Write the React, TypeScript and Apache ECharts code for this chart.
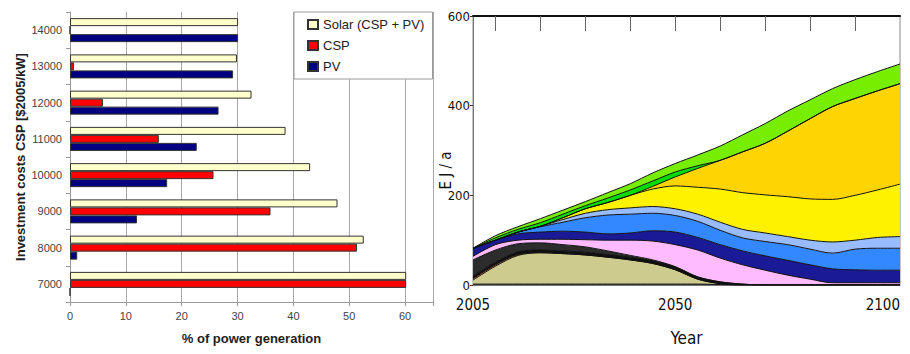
import React, { useEffect, useRef } from 'react';
import * as echarts from 'echarts';

// ---------- Left panel: CSP investment cost vs. share of power generation ----------
const costCategories = ['7000', '8000', '9000', '10000', '11000', '12000', '13000', '14000'];
const solarShare = [60.2, 52.6, 47.9, 43.0, 38.6, 32.5, 29.9, 30.1];
const cspShare = [60.2, 51.4, 35.9, 25.7, 15.9, 5.9, 0.7, 0];
const pvShare = [0, 1.3, 12.0, 17.4, 22.7, 26.6, 29.2, 30.1];

// ---------- Right panel: stacked energy supply (EJ/a) ----------
const years = ['2005', '2010', '2015', '2020', '2025', '2030', '2035', '2040', '2045', '2050', '2055', '2060', '2065', '2070', '2075', '2080', '2085', '2090', '2095', '2100'];
const layerBase = [2, 2, 2, 2, 2, 2, 2, 2, 2, 2, 2, 1, 0, 0, 0, 0, 0, 0, 0, 0];
const layerKhaki = [9, 40, 64, 70, 68, 65, 60, 54, 46, 32, 11, 2, 0, 0, 0, 0, 0, 0, 0, 0];
const layerOrange = [3, 3, 2, 0, 0, 0, 0, 0, 0, 0, 0, 0, 0, 0, 0, 0, 0, 0, 0, 0];
const layerBlack = [6, 6, 6, 6, 6, 6, 6, 6, 6, 6, 5, 4, 2, 0, 0, 0, 0, 0, 0, 0];
const layerDarkGrey = [36, 27, 18, 16, 14, 12, 8, 4, 2, 1, 0, 0, 0, 0, 0, 0, 0, 0, 0, 0];
const layerPink = [8, 12, 8, 8, 12, 16, 24, 34, 42, 49, 60, 53, 43, 33, 22, 13, 5, 5, 5, 5];
const layerNavy = [18, 10, 14, 16, 18, 17, 14, 16, 23, 28, 28, 30, 31, 32, 33, 32, 31, 29, 28, 28];
const layerMidBlue = [0, 0, 4, 12, 20, 32, 42, 42, 39, 37, 36, 32, 29, 32, 35, 35, 35, 46, 49, 49];
const layerLightBlue = [0, 0, 0, 1, 6, 10, 12, 14, 15, 15, 16, 18, 19, 19, 18, 20, 25, 20, 24, 26];
const layerYellow = [0, 0, 0, 0, 4, 10, 16, 28, 39, 51, 60, 74, 82, 85, 89, 92, 95, 100, 106, 117];
const layerGold = [0, 0, 0, 0, 0, 0, 0, 0, 6, 20, 42, 64, 91, 115, 146, 179, 207, 216, 221, 224];
const layerGreen = [0, 5, 6, 8, 8, 7, 10, 12, 12, 11, 6, 0, 0, 0, 0, 0, 0, 0, 0, 0];
const layerLime = [0, 5, 6, 9, 9, 9, 12, 14, 18, 19, 24, 32, 38, 44, 45, 42, 40, 42, 43, 44];
const yearLabels = ['2005', '2050', '2100'];
const topTicks = ['2010', '2020', '2030', '2040', '2050', '2060', '2070', '2080', '2090'];

const layers = [
  { name: 'base', values: layerBase, color: '#5a5a5a' },
  { name: 'khaki', values: layerKhaki, color: '#cecb8f' },
  { name: 'orange', values: layerOrange, color: '#e8703a' },
  { name: 'black', values: layerBlack, color: '#101010' },
  { name: 'darkgrey', values: layerDarkGrey, color: '#2c2c2c' },
  { name: 'pink', values: layerPink, color: '#ffbbff' },
  { name: 'navy', values: layerNavy, color: '#1a1a96' },
  { name: 'midblue', values: layerMidBlue, color: '#3388ff' },
  { name: 'lightblue', values: layerLightBlue, color: '#99bbff' },
  { name: 'yellow', values: layerYellow, color: '#fff200' },
  { name: 'gold', values: layerGold, color: '#ffd400' },
  { name: 'green', values: layerGreen, color: '#00dd00' },
  { name: 'lime', values: layerLime, color: '#77ee00' },
];

const ARIAL = "'Liberation Sans', Arial, sans-serif";
const NARROW = "'Liberation Sans Narrow', 'DejaVu Sans Condensed', 'Liberation Sans', sans-serif";

export default function App() {
  const ref = useRef<HTMLDivElement>(null);
  useEffect(() => {
    if (!ref.current) return;
    const chart = echarts.init(ref.current, undefined, { renderer: 'svg' });
    const barBorder = { borderColor: '#333', borderWidth: 1 };
    const option: any = {
      animation: false,
      backgroundColor: '#ffffff',
      legend: {
        data: ['Solar (CSP + PV)', 'CSP', 'PV'],
        orient: 'vertical',
        left: 294,
        top: 12,
        padding: [6, 8, 6, 13],
        itemGap: 8,
        itemWidth: 10,
        itemHeight: 9,
        icon: 'rect',
        backgroundColor: '#ffffff',
        borderColor: '#9a9a9a',
        borderWidth: 1,
        borderRadius: 0,
        textStyle: { fontFamily: ARIAL, fontSize: 13, color: '#222' },
      },
      grid: [
        { left: 70, top: 12, width: 363, height: 290, containLabel: false, outerBoundsMode: 'none' },
        { left: 473, top: 16, width: 427, height: 269, containLabel: false, outerBoundsMode: 'none', show: true, borderColor: '#8a8a8a', borderWidth: 1 },
      ],
      xAxis: [
        {
          gridIndex: 0,
          type: 'value',
          min: 0,
          max: 65,
          interval: 10,
          name: '% of power generation',
          nameLocation: 'middle',
          nameGap: 30,
          nameTextStyle: { fontFamily: ARIAL, fontSize: 13, fontWeight: 'bold', color: '#222' },
          axisLine: { show: true, lineStyle: { color: '#999' } },
          axisTick: { show: true, length: 4, lineStyle: { color: '#999' } },
          axisLabel: {
            fontFamily: ARIAL, fontSize: 11, color: '#444', margin: 8,
            formatter: (v: number) => (v % 10 === 0 ? String(v) : ''),
          },
          splitLine: { show: true, lineStyle: { color: '#a8a8a8', width: 1 } },
        },
        {
          gridIndex: 1,
          type: 'category',
          data: years,
          boundaryGap: false,
          name: 'Year',
          nameLocation: 'middle',
          nameGap: 44,
          nameTextStyle: { fontFamily: NARROW, fontSize: 17, color: '#111' },
          axisLine: { show: true, lineStyle: { color: '#777' } },
          axisTick: { show: false },
          axisLabel: {
            fontFamily: NARROW, fontSize: 15, color: '#111', margin: 12,
            interval: (_i: number, v: string) => yearLabels.includes(v),
            alignMaxLabel: 'right',
          },
          splitLine: { show: false },
        },
        {
          gridIndex: 1,
          type: 'category',
          data: years,
          boundaryGap: false,
          position: 'top',
          axisLine: { show: true, lineStyle: { color: '#111', width: 2 } },
          axisTick: {
            show: true, inside: true, length: 15, lineStyle: { color: '#666' },
            interval: (_i: number, v: string) => topTicks.includes(v),
          },
          axisLabel: { show: false },
          splitLine: { show: false },
        },
      ],
      yAxis: [
        {
          gridIndex: 0,
          type: 'category',
          data: costCategories,
          name: 'Investment costs CSP [$2005/kW]',
          nameLocation: 'middle',
          nameGap: 43,
          nameTextStyle: { fontFamily: ARIAL, fontSize: 13, fontWeight: 'bold', color: '#222' },
          axisLine: { show: true, lineStyle: { color: '#999' } },
          axisTick: { show: true, length: 4, lineStyle: { color: '#999' } },
          axisLabel: { fontFamily: ARIAL, fontSize: 11, color: '#444', margin: 8 },
          splitLine: { show: false },
        },
        {
          gridIndex: 1,
          type: 'value',
          min: 0,
          max: 600,
          interval: 200,
          name: 'E J / a',
          nameLocation: 'middle',
          nameGap: 20,
          nameMoveOverlap: false,
          nameTextStyle: { fontFamily: NARROW, fontSize: 15, color: '#111', padding: [0, 40, 0, 0] },
          axisLine: { show: true, lineStyle: { color: '#777' } },
          axisTick: { show: true, length: 3, lineStyle: { color: '#333' } },
          axisLabel: { fontFamily: NARROW, fontSize: 13, color: '#111', margin: 3 },
          splitLine: { show: false },
        },
      ],
      series: [
        {
          name: 'Solar (CSP + PV)', type: 'bar', xAxisIndex: 0, yAxisIndex: 0,
          data: solarShare, barWidth: 8, barGap: '0%',
          itemStyle: { color: '#ffffcc', ...barBorder },
        },
        {
          name: 'CSP', type: 'bar', xAxisIndex: 0, yAxisIndex: 0,
          data: cspShare, barWidth: 8, barGap: '0%',
          itemStyle: { color: '#ff0000', ...barBorder },
        },
        {
          name: 'PV', type: 'bar', xAxisIndex: 0, yAxisIndex: 0,
          data: pvShare, barWidth: 8, barGap: '0%',
          itemStyle: { color: '#000080', ...barBorder },
        },
        ...layers.map((l) => ({
          name: l.name,
          type: 'line',
          xAxisIndex: 1,
          yAxisIndex: 1,
          stack: 'energy',
          data: l.values,
          showSymbol: false,
          symbol: 'none',
          smooth: 0.3,
          lineStyle: { color: '#111', width: 1 },
          areaStyle: { color: l.color, opacity: 1 },
          emphasis: { disabled: true },
        })),
      ],
    };
    chart.setOption(option);
    return () => chart.dispose();
  }, []);
  return <div ref={ref} style={{ position: 'fixed', left: 0, top: 0, width: 910, height: 354 }} />;
}
